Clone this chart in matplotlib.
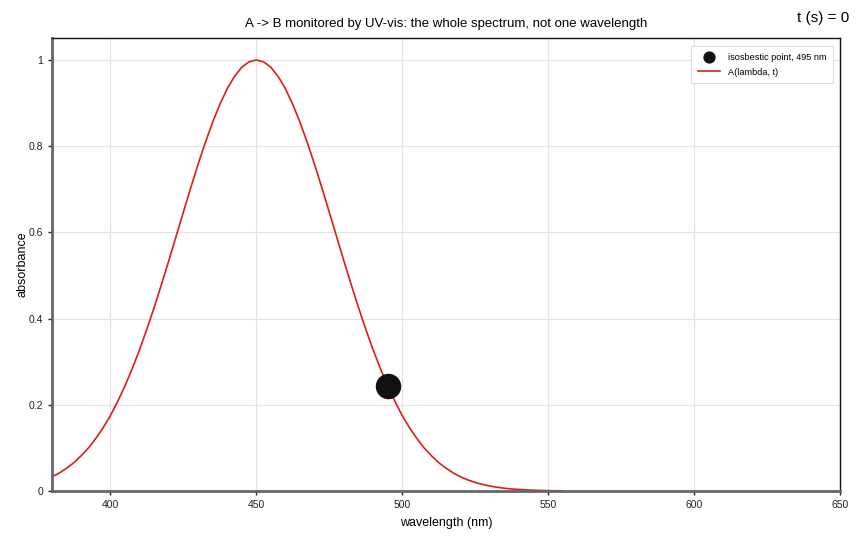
import matplotlib.pyplot as plt

# wavelength grid (nm) and absorbance at t = 0
wavelength = [380, 382.5, 385, 387.5, 390, 392.5, 395, 397.5, 400, 402.5, 405, 407.5,
              410, 412.5, 415, 417.5, 420, 422.5, 425, 427.5, 430, 432.5, 435, 437.5,
              440, 442.5, 445, 447.5, 450, 452.5, 455, 457.5, 460, 462.5, 465, 467.5,
              470, 472.5, 475, 477.5, 480, 482.5, 485, 487.5, 490, 492.5, 495, 497.5,
              500, 502.5, 505, 507.5, 510, 512.5, 515, 517.5, 520, 522.5, 525, 527.5,
              530, 532.5, 535, 537.5, 540, 542.5, 545, 547.5, 550, 552.5, 555]
absorbance = [0.033, 0.0419, 0.053, 0.0658, 0.082, 0.100, 0.122, 0.1467, 0.175, 0.2078,
              0.244, 0.2843, 0.328, 0.3756, 0.426, 0.4793, 0.534, 0.5906, 0.647, 0.7029,
              0.757, 0.8079, 0.855, 0.8969, 0.933, 0.9616, 0.983, 0.9957, 1.0, 0.9957,
              0.983, 0.9616, 0.933, 0.8969, 0.855, 0.8079, 0.757, 0.7029, 0.647, 0.5906,
              0.534, 0.4793, 0.426, 0.3756, 0.328, 0.2843, 0.244, 0.2078, 0.175, 0.1467,
              0.122, 0.100, 0.082, 0.0658, 0.053, 0.0419, 0.033, 0.0257, 0.020, 0.0153,
              0.0116, 0.0087, 0.0065, 0.0048, 0.0036, 0.0026, 0.0019, 0.0013, 0.00095,
              0.00066, 0.00046]

iso_wl = [495]
iso_abs = [0.244]

x_ticks = [400, 450, 500, 550, 600, 650]
y_ticks = [0, 0.2, 0.4, 0.6, 0.8, 1]
y_tick_labels = ['0', '0.2', '0.4', '0.6', '0.8', '1']

plt.rcParams['font.family'] = ['Liberation Sans', 'DejaVu Sans']

fig = plt.figure(figsize=(8.6, 5.4), dpi=100)
ax = fig.add_axes([0.0605, 0.0907, 0.9162, 0.8389])

ax.grid(True, color='#e3e3e3', linewidth=0.9, zorder=0)
ax.set_axisbelow(True)

ax.scatter(iso_wl, iso_abs, s=300, color='#111111', zorder=3,
           label='isosbestic point, 495 nm')
ax.plot(wavelength, absorbance, color='#dd1c1c', linewidth=1.2, zorder=2,
        label='A(lambda, t)')

ax.set_xlim(380, 650)
ax.set_ylim(0, 1.051)
ax.set_xticks(x_ticks)
ax.set_yticks(y_ticks)
ax.set_yticklabels(y_tick_labels)
ax.tick_params(axis='both', labelsize=7.5, length=3, width=1, colors='#222222')

for side in ['left', 'bottom']:
    ax.spines[side].set_color('#666666')
    ax.spines[side].set_linewidth(2)
for side in ['top', 'right']:
    ax.spines[side].set_color('#111111')
    ax.spines[side].set_linewidth(1)

ax.set_xlabel('wavelength (nm)', fontsize=9, labelpad=5)
ax.set_ylabel('absorbance', fontsize=9, labelpad=0)
ax.set_title('A -> B monitored by UV-vis: the whole spectrum, not one wavelength',
             fontsize=9.5, pad=8)

fig.text(0.988, 0.967, 't (s) = 0', fontsize=11, ha='right', va='center')

leg = ax.legend(loc='upper right', fontsize=6.6, frameon=True, fancybox=False,
                edgecolor='#dddddd', framealpha=1, markerscale=0.45,
                borderpad=0.75, handlelength=2.4, labelspacing=0.65,
                bbox_to_anchor=(0.997, 0.993))
leg.get_frame().set_linewidth(0.8)

fig.savefig('out.png', dpi=100)
